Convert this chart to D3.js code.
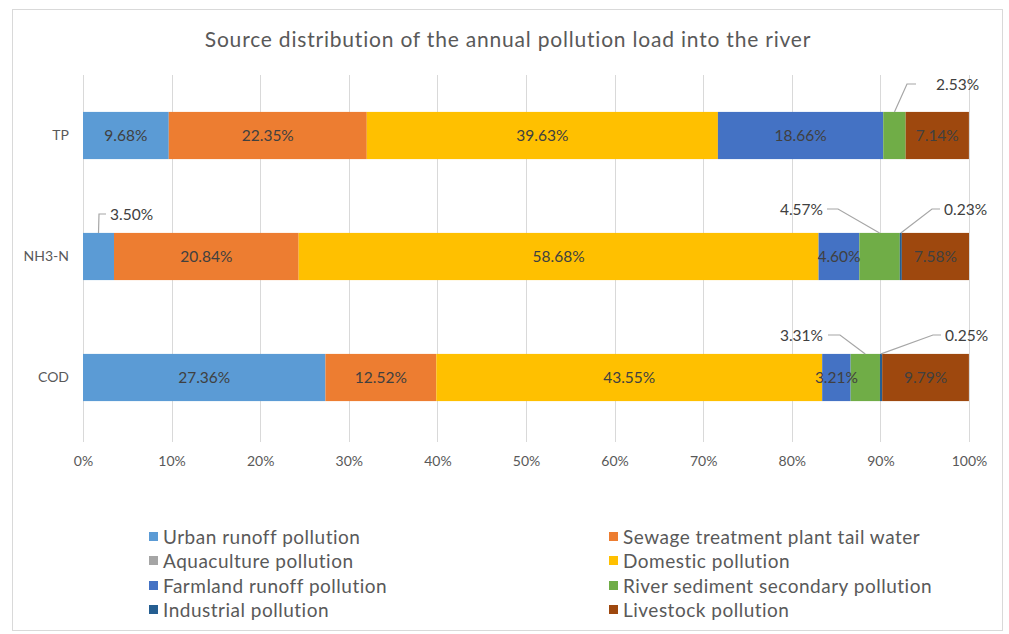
<!DOCTYPE html>
<html><head><meta charset="utf-8">
<script src="https://cdn.jsdelivr.net/npm/d3@7"></script>
<style>body{margin:0;background:#fff;}svg{display:block;font-family:Lato,"Open Sans",sans-serif;}</style>
</head><body><svg id="c" width="1009" height="634"></svg>
<script>
const categories = ["TP", "NH3-N", "COD"];
const seriesNames = ["Urban runoff pollution","Sewage treatment plant tail water","Aquaculture pollution","Domestic pollution","Farmland runoff pollution","River sediment secondary pollution","Industrial pollution","Livestock pollution"];
const urban = [9.68, 3.50, 27.36];
const sewage = [22.35, 20.84, 12.52];
const aquaculture = [0, 0, 0];
const domestic = [39.63, 58.68, 43.55];
const farmland = [18.66, 4.60, 3.21];
const sediment = [2.53, 4.57, 3.31];
const industrial = [0, 0.23, 0.25];
const livestock = [7.14, 7.58, 9.79];
const xTicks = [0, 10, 20, 30, 40, 50, 60, 70, 80, 90, 100];
const colors = ["#5B9BD5","#ED7D31","#A5A5A5","#FFC000","#4472C4","#70AD47","#255E91","#9E480E"];
// callout labels (positions of elbow, horizontal end and text)
const callouts = [
  {cat:"TP", s:5, side:"right", ex:907, ey:84, hx:916, tx:936},
  {cat:"NH3-N", s:0, side:"right", ex:99, ey:214, hx:106, tx:110},
  {cat:"NH3-N", s:5, side:"left", ex:838, ey:209, hx:827, tx:823},
  {cat:"NH3-N", s:6, side:"right", ex:932, ey:209, hx:940, tx:944},
  {cat:"COD", s:5, side:"left", ex:840, ey:335, hx:828, tx:823},
  {cat:"COD", s:6, side:"right", ex:933, ey:335, hx:941, tx:945}
];

const series = [urban, sewage, aquaculture, domestic, farmland, sediment, industrial, livestock];
const data = categories.map((c,i)=>{const o={cat:c}; series.forEach((s,j)=>o["s"+j]=s[i]); return o;});
const keys = series.map((s,j)=>"s"+j);
const stack = d3.stack().keys(keys)(data);

const svg = d3.select("#c");
svg.append("rect").attr("x",12.5).attr("y",9.5).attr("width",990).attr("height",621)
  .attr("fill","#fff").attr("stroke","#D9D9D9");

const x = d3.scaleLinear().domain([0,100]).range([83,969]);
const y = d3.scaleBand().domain(categories).range([75,438]).paddingInner(0.61).paddingOuter(0.305);

svg.append("text").attr("x",508).attr("y",47).attr("text-anchor","middle")
  .attr("font-size",21).attr("letter-spacing",0.8).attr("fill","#595959")
  .text("Source distribution of the annual pollution load into the river");

// gridlines
svg.append("g").selectAll("line").data(xTicks).join("line")
  .attr("x1",d=>Math.round(x(d))+0.5).attr("x2",d=>Math.round(x(d))+0.5)
  .attr("y1",75).attr("y2",442).attr("stroke","#D9D9D9").attr("stroke-width",1);

// x axis labels
const xa = svg.append("g").attr("transform","translate(0,442)")
  .call(d3.axisBottom(x).tickValues(xTicks).tickFormat(d=>d+"%").tickSize(0).tickPadding(14));
xa.select(".domain").remove();
xa.selectAll("text").attr("font-size",14).attr("fill","#595959").attr("font-family","Lato,'Open Sans',sans-serif");

// y axis labels
const ya = svg.append("g").attr("transform","translate(83,0)")
  .call(d3.axisLeft(y).tickSize(0).tickPadding(14));
ya.select(".domain").remove();
ya.selectAll("text").attr("font-size",14).attr("fill","#595959").attr("font-family","Lato,'Open Sans',sans-serif");

// bars
const g = svg.append("g");
stack.forEach((layer,j)=>{
  g.append("g").attr("fill",colors[j]).selectAll("rect").data(layer).join("rect")
    .attr("x",d=>x(d[0])).attr("width",d=>Math.max(0,x(d[1])-x(d[0])))
    .attr("y",d=>y(d.data.cat)).attr("height",y.bandwidth());
});

const isCallout = (cat,s)=>callouts.some(c=>c.cat===cat&&c.s===s);
// inside labels
stack.forEach((layer,j)=>{
  layer.forEach(d=>{
    const v = d[1]-d[0];
    if (v<=0 || isCallout(d.data.cat,j)) return;
    svg.append("text").attr("x",(x(d[0])+x(d[1]))/2).attr("y",y(d.data.cat)+y.bandwidth()/2+5.5)
      .attr("text-anchor","middle").attr("font-size",15.5).attr("fill","#404040").text(v.toFixed(2)+"%");
  });
});

// callouts
callouts.forEach(c=>{
  const ci = categories.indexOf(c.cat);
  const d = stack[c.s][ci];
  const px = (x(d[0])+x(d[1]))/2, py = y(c.cat);
  const val = (d[1]-d[0]).toFixed(2)+"%";
  const pts = [[px,py],[c.ex,c.ey],[c.hx,c.ey]];
  svg.append("path").attr("d",d3.line()(pts)).attr("fill","none").attr("stroke","#A6A6A6").attr("stroke-width",1.2);
  svg.append("text").attr("x",c.tx).attr("y",c.ey+5.5).attr("text-anchor",c.side==="right"?"start":"end")
    .attr("font-size",15.5).attr("fill","#404040").text(val);
});

// legend
const legX = [149, 609], legY = [537, 561, 586, 610];
seriesNames.forEach((n,i)=>{
  const lx = legX[i%2], ly = legY[Math.floor(i/2)];
  svg.append("rect").attr("x",lx).attr("y",ly-5).attr("width",9).attr("height",9).attr("fill",colors[i]);
  svg.append("text").attr("x",lx+14).attr("y",ly+6.5).attr("font-size",19).attr("letter-spacing",0.5)
    .attr("fill","#595959").text(n);
});
</script></body></html>
